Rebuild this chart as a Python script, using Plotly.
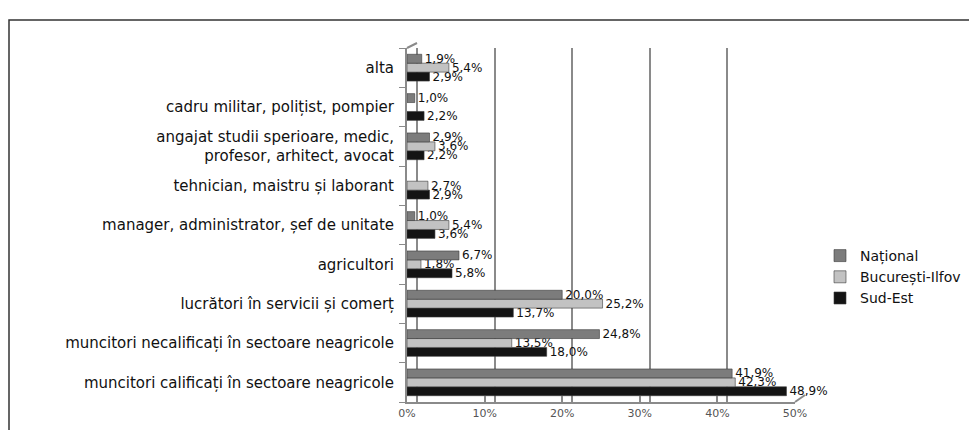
import plotly.graph_objects as go

categories = [
    "muncitori calificați în sectoare neagricole",
    "muncitori necalificați în sectoare neagricole",
    "lucrători în servicii și comerț",
    "agricultori",
    "manager, administrator, șef de unitate",
    "tehnician, maistru și laborant",
    "angajat studii sperioare, medic,<br>profesor, arhitect, avocat",
    "cadru militar, polițist, pompier",
    "alta",
]
national = [41.9, 24.8, 20.0, 6.7, 1.0, None, 2.9, 1.0, 1.9]
bucuresti = [42.3, 13.5, 25.2, 1.8, 5.4, 2.7, 3.6, None, 5.4]
sud_est = [48.9, 18.0, 13.7, 5.8, 3.6, 2.9, 2.2, 2.2, 2.9]
x_ticks = [0, 10, 20, 30, 40, 50]
x_ticklabels = ["0%", "10%", "20%", "30%", "40%", "50%"]


def labels(vals):
    return ["" if v is None else f"{v:.1f}".replace(".", ",") + "%" for v in vals]


FONT = "DejaVu Sans, Verdana, Arial"

# geometry (figure coords; page body adds 8px offset)
W, H = 969, 422
L, T = 399, 35
PW, PH = 388, 359
R = W - L - PW
B = H - T - PH
YTOP = (PH - 5) / PH

fig = go.Figure()
series = [
    ("Sud-Est", sud_est, "#141414"),
    ("București-Ilfov", bucuresti, "#c2c2c2"),
    ("Național", national, "#7c7c7c"),
]
for name, vals, col in series:
    fig.add_trace(go.Bar(
        y=categories, x=vals, name=name, orientation="h",
        marker=dict(color=col, line=dict(color="#3a3a3a", width=0.6)),
        text=labels(vals), textposition="outside", cliponaxis=False,
        constraintext="none",
        textfont=dict(family=FONT, size=12, color="#111"),
    ))

# invisible trace for the back-wall grid subplot
fig.add_trace(go.Scatter(x=[None], y=[None], xaxis="x2", yaxis="y2",
                         showlegend=False, hoverinfo="skip"))

fig.update_layout(
    width=W, height=H,
    margin=dict(l=L, r=R, t=T, b=B, autoexpand=False),
    paper_bgcolor="white", plot_bgcolor="rgba(0,0,0,0)",
    barmode="group", bargap=0.32, bargroupgap=0.0,
    font=dict(family=FONT, size=14, color="#111"),
    xaxis=dict(
        range=[0, 50], tickvals=x_ticks, ticktext=x_ticklabels, automargin=False,
        showgrid=False, zeroline=False, showline=True, linecolor="#8a8a8a", linewidth=2,
        ticks="inside", ticklen=6, tickcolor="#8a8a8a", tickwidth=1.5, anchor="y",
        tickfont=dict(family=FONT, size=11, color="#555"),
    ),
    xaxis2=dict(
        range=[-1.3, 48.7], overlaying="x", tickvals=x_ticks, showticklabels=False,
        showgrid=True, gridcolor="#8a8a8a", gridwidth=2, zeroline=False, showline=False,
        anchor="y2", automargin=False,
    ),
    yaxis=dict(
        domain=[0, YTOP], automargin=False,
        showline=True, linecolor="#8a8a8a", linewidth=2, ticks="outside", ticklen=6,
        tickcolor="#8a8a8a", tickson="boundaries", showgrid=False,
        ticklabelstandoff=8,
        tickfont=dict(family=FONT, size=15, color="#111"),
    ),
    yaxis2=dict(
        domain=[7 / PH, 1], range=[0, 1], visible=False, showgrid=False,
        overlaying="y", automargin=False,
    ),
    legend=dict(
        x=(812 - L) / PW, y=(PH + T - 269) / PH, xanchor="left", yanchor="middle",
        traceorder="reversed", bgcolor="rgba(0,0,0,0)",
        font=dict(family=FONT, size=14, color="#111"),
        itemwidth=30, tracegroupgap=0,
    ),
    shapes=[
        dict(type="rect", xref="paper", yref="paper",
             x0=(1 - L) / PW, x1=1.6, y0=-0.3, y1=(PH + T - 12) / PH,
             line=dict(color="#333", width=1.5), layer="below"),
        dict(type="line", xref="paper", yref="paper",
             x0=0, y0=YTOP, x1=10 / PW, y1=1,
             line=dict(color="#8a8a8a", width=2)),
        dict(type="line", xref="paper", yref="paper",
             x0=1, y0=0, x1=1 + 10 / PW, y1=7 / PH,
             line=dict(color="#8a8a8a", width=2)),
    ],
)

fig.write_html("out.html")
